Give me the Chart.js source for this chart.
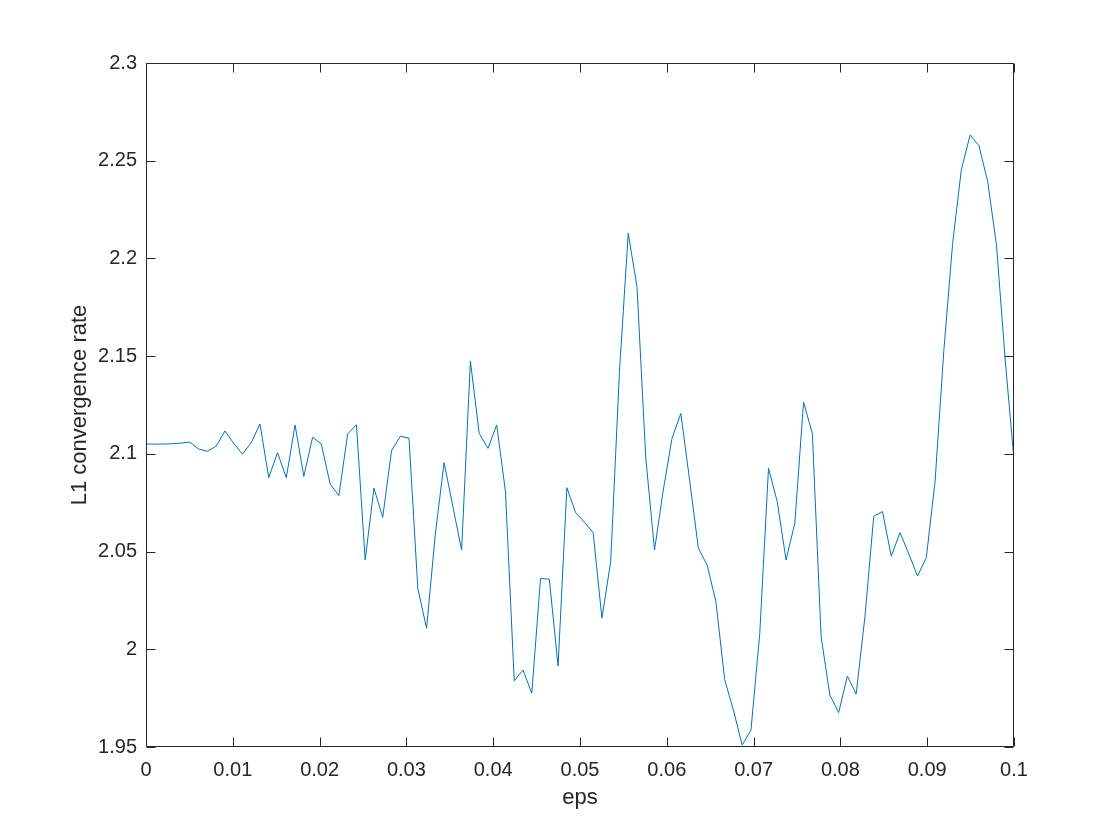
<!DOCTYPE html>
<html>
<head>
<meta charset="utf-8">
<script src="https://cdn.jsdelivr.net/npm/chart.js@4/dist/chart.umd.min.js"></script>
<style>
  html, body { margin: 0; padding: 0; background: #fff; }
  #wrap { width: 1120px; height: 840px; }
</style>
</head>
<body>
<div id="wrap"><canvas id="rateChart" width="1120" height="840"></canvas></div>
<script>
// eps grid: linspace(0, 0.1, 100)
const eps = Array.from({ length: 100 }, (_, i) => i * 0.1 / 99);

// L1 convergence rate
const rate = [
  2.105, 2.105, 2.105, 2.1052, 2.1055, 2.106, 2.1025, 2.1013, 2.1039, 2.1117,
  2.1054, 2.0998, 2.1057, 2.1153, 2.0878, 2.1006, 2.0878, 2.1148, 2.0885, 2.1085,
  2.105, 2.0846, 2.0786, 2.1102, 2.1149, 2.0457, 2.0825, 2.0675, 2.1015, 2.109,
  2.108, 2.0312, 2.0107, 2.059, 2.0955, 2.073, 2.0508, 2.1475, 2.1105, 2.1028,
  2.1148, 2.0806, 1.9839, 1.9894, 1.9775, 2.0362, 2.0359, 1.9914, 2.0827, 2.0699,
  2.065, 2.0597, 2.0159, 2.0448, 2.142, 2.2129, 2.1855, 2.098, 2.0508, 2.0815,
  2.108, 2.1207, 2.0866, 2.0517, 2.0431, 2.0244, 1.9845, 1.9688, 1.951, 1.9587,
  2.008, 2.0926, 2.0755, 2.0457, 2.0645, 2.1264, 2.1105, 2.0064, 1.9766, 1.9676,
  1.9863, 1.9771, 2.0167, 2.068, 2.0705, 2.0476, 2.0597, 2.0488, 2.0375, 2.0469,
  2.086, 2.153, 2.2077, 2.2456, 2.2632, 2.2577, 2.2393, 2.2069, 2.148, 2.0969
];

const xTicks = [0, 0.01, 0.02, 0.03, 0.04, 0.05, 0.06, 0.07, 0.08, 0.09, 0.1];
const yTicks = [1.95, 2, 2.05, 2.1, 2.15, 2.2, 2.25, 2.3];

const axisColor = '#262626';
const fontFamily = "'Liberation Sans', Arial, Helvetica, sans-serif";

// box round the axes with inward tick marks, like matlab
const boxTicks = {
  id: 'boxTicks',
  afterDraw(chart) {
    const { ctx, chartArea: a, scales: { x, y } } = chart;
    const L = Math.round(a.left) + 0.5, R = Math.round(a.right) - 0.5;
    const T = Math.round(a.top) + 0.5, B = Math.round(a.bottom) - 0.5;
    const len = 9;
    ctx.save();
    ctx.strokeStyle = axisColor;
    ctx.lineWidth = 1;
    ctx.beginPath();
    ctx.rect(L, T, R - L, B - T);
    xTicks.forEach(v => {
      const px = Math.round(x.getPixelForValue(v)) + 0.5;
      ctx.moveTo(px, B); ctx.lineTo(px, B - len);
      ctx.moveTo(px, T); ctx.lineTo(px, T + len);
    });
    yTicks.forEach(v => {
      const py = Math.round(y.getPixelForValue(v)) + 0.5;
      ctx.moveTo(L, py); ctx.lineTo(L + len, py);
      ctx.moveTo(R, py); ctx.lineTo(R - len, py);
    });
    ctx.stroke();
    ctx.restore();
  }
};

new Chart(document.getElementById('rateChart'), {
  type: 'line',
  data: {
    datasets: [{
      data: eps.map((e, i) => ({ x: e, y: rate[i] })),
      borderColor: '#0072BD',
      borderWidth: 1,
      pointRadius: 0,
      tension: 0,
      fill: false
    }]
  },
  options: {
    responsive: false,
    animation: false,
    events: [],
    layout: { padding: { left: 0, top: 63, right: 106, bottom: 0 } },
    plugins: { legend: { display: false }, tooltip: { enabled: false } },
    scales: {
      x: {
        type: 'linear',
        min: 0,
        max: 0.1,
        afterBuildTicks: s => { s.ticks = xTicks.map(v => ({ value: v })); },
        afterFit: s => { s.height = 93; },
        grid: { display: false, drawTicks: false },
        border: { display: false },
        ticks: {
          padding: 11,
          color: axisColor,
          font: { family: fontFamily, size: 20 },
          maxRotation: 0,
          autoSkip: false,
          callback: v => String(+v.toFixed(3))
        },
        title: {
          display: true,
          text: 'eps',
          color: axisColor,
          font: { family: fontFamily, size: 22 },
          padding: { top: 0, bottom: 29 }
        }
      },
      y: {
        type: 'linear',
        min: 1.95,
        max: 2.3,
        afterBuildTicks: s => { s.ticks = yTicks.map(v => ({ value: v })); },
        afterFit: s => { s.width = 146; },
        grid: { display: false, drawTicks: false },
        border: { display: false },
        ticks: {
          padding: 9,
          color: axisColor,
          font: { family: fontFamily, size: 20 },
          autoSkip: false,
          callback: v => String(+v.toFixed(2))
        },
        title: {
          display: true,
          text: 'L1 convergence rate',
          color: axisColor,
          font: { family: fontFamily, size: 22 },
          padding: { top: 67, bottom: 0 }
        }
      }
    }
  },
  plugins: [boxTicks]
});
</script>
</body>
</html>
